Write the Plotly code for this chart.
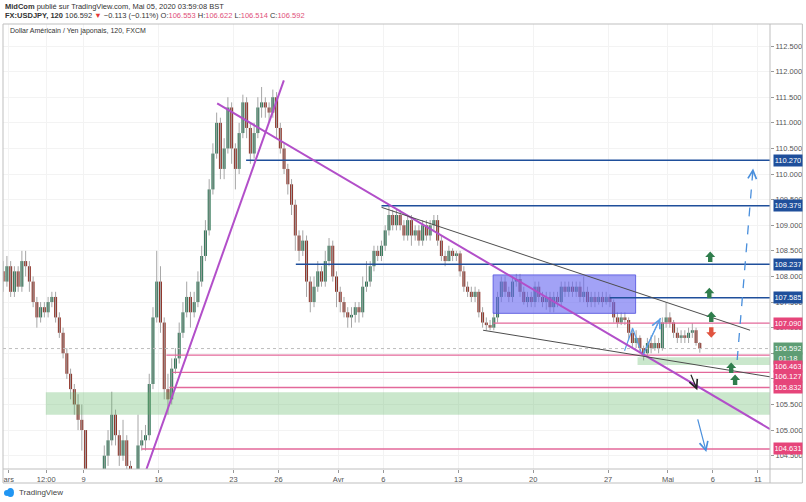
import plotly.graph_objects as go

# ---------------- data (6-hour candles, x = trading-day index from Mar 2) ----------------
first_open = 108.1
bar_step = 0.25
t_start = -0.5

closes = [
    107.9, 108.2,
    107.7, 108.1, 107.8, 108.3,
    108.2, 107.9, 107.5, 107.2,
    107.4, 107.3, 107.5, 107.6,
    107.2, 106.9, 106.5, 106.1,
    105.8, 105.5, 105.2, 105.0,
    102.5, 101.8, 102.6, 102.3,
    103.5, 104.5, 104.8, 105.3,
    104.9, 104.5, 104.8, 104.3,
    103.6, 103.8, 104.7, 104.8,
    104.9, 105.9, 107.2, 107.9,
    107.1, 105.8, 105.6, 106.2,
    106.4, 106.9, 107.3, 107.6,
    107.3, 107.5, 107.9, 108.4,
    108.9, 109.7, 110.4, 111.0,
    110.1, 110.5, 111.3, 110.5,
    110.1, 110.8, 111.4, 110.9,
    110.4, 110.8, 111.3, 111.4,
    111.3, 111.2, 111.5, 110.9,
    110.5, 110.1, 109.8, 109.4,
    108.8, 108.5, 108.7, 107.9,
    107.5, 107.8, 108.1, 107.9,
    108.3, 108.6, 108.0, 107.7,
    107.5, 107.3, 107.2, 107.25,
    107.4, 107.3, 107.8, 107.9,
    108.2, 108.5, 108.4, 108.6,
    108.9, 109.2, 109.0, 109.2,
    109.0, 108.8, 109.1, 108.8,
    108.9, 108.7, 109.0, 108.8,
    109.0, 109.1, 108.7, 108.4,
    108.3, 108.5, 108.4, 108.45,
    108.1, 107.8, 107.7, 107.6,
    107.7, 107.3, 107.1, 107.05,
    107.0, 107.2, 107.6, 107.9,
    107.7, 107.6, 107.9, 107.95,
    107.7, 107.5, 107.6, 107.5,
    107.8, 107.6, 107.5, 107.6,
    107.4, 107.6, 107.5, 107.8,
    107.7, 107.8, 107.7, 107.8,
    107.6, 107.7, 107.5, 107.6,
    107.5, 107.6, 107.5, 107.6,
    107.5, 107.2, 107.1, 107.2,
    107.15, 106.9, 106.7, 106.8,
    106.6, 106.5, 106.7, 106.6,
    106.7, 106.6, 107.1, 107.2,
    107.1, 106.9, 106.8, 106.85,
    106.8, 106.9, 106.95, 106.7,
    106.592,
]

highs = [
    108.3, 108.4,
    108.3, 108.2, 108.2, 108.5,
    108.5, 108.3, 108.0, 107.6,
    107.5, 107.5, 107.6, 107.7,
    107.7, 107.3, 107.0, 106.6,
    106.2, 105.9, 105.7, 105.5,
    104.6, 103.0, 103.2, 103.0,
    103.8, 104.7, 105.0, 105.75,
    105.4, 105.0, 105.2, 104.9,
    104.4, 104.0, 105.3, 105.0,
    105.1, 106.1, 107.4, 108.5,
    108.2, 107.2, 106.1, 106.4,
    106.6, 107.1, 107.5, 107.9,
    107.7, 107.7, 108.1, 108.6,
    109.1, 109.9, 110.6, 111.2,
    111.1, 110.7, 111.5, 111.4,
    110.6, 111.0, 111.55, 111.5,
    111.0, 111.0, 111.5, 111.7,
    111.5, 111.4, 111.65, 111.6,
    111.0, 110.6, 110.2, 109.9,
    109.5, 108.9, 108.9, 108.8,
    108.0, 108.0, 108.3, 108.2,
    108.5, 108.75, 108.7, 108.1,
    107.8, 107.6, 107.4, 107.4,
    107.5, 107.5, 108.0, 108.3,
    108.3, 108.6, 108.6, 108.7,
    109.0, 109.38, 109.3, 109.3,
    109.3, 109.1, 109.2, 109.2,
    109.0, 109.0, 109.1, 109.1,
    109.1, 109.2, 109.2, 108.8,
    108.5, 108.6, 108.55, 108.5,
    108.5, 108.2, 107.9, 107.8,
    107.8, 107.75, 107.4, 107.2,
    107.15, 107.3, 107.7, 108.0,
    108.0, 107.8, 108.0, 108.05,
    108.05, 107.8, 107.7, 107.7,
    107.9, 107.9, 107.7, 107.7,
    107.7, 107.7, 107.7, 107.9,
    107.9, 107.9, 107.9, 107.9,
    107.9, 108.0, 107.8, 107.7,
    107.7, 107.7, 107.7, 107.7,
    107.65, 107.55, 107.3, 107.3,
    107.3, 107.2, 107.0, 106.95,
    106.85, 106.65, 106.8, 106.85,
    106.85, 106.8, 107.2, 107.5,
    107.3, 107.15, 107.0, 106.95,
    106.95, 107.0, 107.09, 107.0,
    106.72,
]

lows = [
    107.7, 107.8,
    107.6, 107.6, 107.7, 107.7,
    108.0, 107.7, 107.4, 107.0,
    107.1, 107.2, 107.2, 107.4,
    107.1, 106.8, 106.4, 106.0,
    105.6, 105.3, 105.0, 104.6,
    102.0, 101.2, 101.6, 102.0,
    102.2, 103.4, 104.3, 104.7,
    104.7, 104.3, 104.4, 104.0,
    103.3, 103.1, 103.7, 104.6,
    104.6, 104.8, 105.8, 107.1,
    106.9, 105.6, 105.3, 105.5,
    106.1, 106.3, 106.8, 107.2,
    107.0, 107.2, 107.4, 107.8,
    108.3, 108.8, 109.6, 110.3,
    109.9, 109.9, 110.4, 110.2,
    109.7, 110.0, 110.7, 110.7,
    110.2, 110.3, 110.7, 111.1,
    111.1, 111.0, 111.1, 110.7,
    110.4, 110.0, 109.6, 109.2,
    108.5, 108.3, 108.4, 107.6,
    107.3, 107.4, 107.7, 107.8,
    107.8, 108.2, 107.9, 107.4,
    107.3, 107.2, 107.0, 107.0,
    107.1, 107.1, 107.2, 107.7,
    107.8, 108.1, 108.3, 108.3,
    108.5, 108.8, 108.9, 108.9,
    108.9, 108.7, 108.7, 108.6,
    108.7, 108.6, 108.6, 108.7,
    108.7, 108.9, 108.6, 108.3,
    108.2, 108.3, 108.3, 108.3,
    108.0, 107.7, 107.6, 107.5,
    107.5, 107.2, 107.0, 106.95,
    106.95, 106.95, 107.1, 107.5,
    107.6, 107.5, 107.5, 107.8,
    107.6, 107.45, 107.4, 107.4,
    107.4, 107.5, 107.4, 107.35,
    107.3, 107.3, 107.4, 107.4,
    107.6, 107.6, 107.6, 107.6,
    107.5, 107.5, 107.4, 107.4,
    107.4, 107.45, 107.4, 107.45,
    107.4, 107.1, 107.0, 107.05,
    107.05, 106.75, 106.6, 106.6,
    106.5, 106.36, 106.45, 106.5,
    106.55, 106.5, 106.55, 107.0,
    107.0, 106.8, 106.7, 106.7,
    106.7, 106.7, 106.8, 106.65,
    106.51,
]

tick_days = [0, 2.5, 5, 10, 15, 18, 22, 25, 30, 35, 40, 44, 47, 50]
tick_text = ["ars", "12:00", "9", "16", "23", "26", "Avr", "6", "13", "20", "27", "Mai", "6", "11"]
price_ticks = [104.5, 105.0, 105.5, 106.0, 106.5, 107.0, 107.5, 108.0, 108.5,
               109.0, 109.5, 110.0, 110.5, 111.0, 111.5, 112.0, 112.5]
hidden_ticks = [106.0, 106.5]   # fully covered by price tags in the reference

# horizontal levels (price, start day)
navy_levels = [110.270, 109.379, 108.237, 107.585]
navy_start = [15.84, 24.88, 19.16, 40.11]
pink_levels = [107.090, 106.463, 106.127, 105.832, 104.631]
pink_start = [32.33, 10.52, 10.92, 10.72, 8.86]
last_price = 106.592

# drawing anchors (day, price)
violet_lines = [((9.12, 104.18), (18.36, 111.83)), ((13.91, 111.38), (50.81, 105.02))]
grey_lines = [((24.88, 109.35), (49.48, 106.95)), ((31.66, 106.95), (50.81, 106.04))]
green_zones = [((2.47, 105.30), (50.81, 105.74)), ((41.97, 106.27), (50.81, 106.42))]
purple_box = ((32.33, 107.28), (41.84, 108.03))
zigzag_d = [41.10, 41.64, 42.30, 43.50]
zigzag_p = [106.55, 106.99, 106.45, 107.19]
dashed_arrow = ((48.62, 106.37), (49.68, 110.11))
blue_arrow = ((45.96, 105.24), (46.56, 104.57))
black_arrow = ((45.49, 106.11), (45.96, 105.78))
up_arrows = [(46.82, 108.38), (46.76, 107.67), (46.89, 107.21), (48.22, 106.21), (48.48, 105.98)]
down_arrows = [(46.89, 106.91)]

X_RANGE = [-0.386, 50.81]
Y_RANGE = [104.24, 112.93]

# ---------------- build candles ----------------
opens = [first_open] + closes[:-1]
n = len(closes)
times = [t_start + bar_step * (i + 0.5) for i in range(n)]

UP, DOWN, WICK = "#2f7556", "#8f3328", "#a6a6a6"
wx, wy = [], []
up_x, up_b, up_h, dn_x, dn_b, dn_h = [], [], [], [], [], []
for t, o, h, l, c in zip(times, opens, highs, lows, closes):
    h = max(h, o, c)
    l = min(l, o, c)
    wx += [t, t, None]
    wy += [l, h, None]
    body = max(abs(c - o), 0.02)
    if c >= o:
        up_x.append(t); up_b.append(min(o, c)); up_h.append(body)
    else:
        dn_x.append(t); dn_b.append(min(o, c)); dn_h.append(body)

fig = go.Figure()
fig.add_trace(go.Scatter(x=wx, y=wy, mode="lines", line=dict(color=WICK, width=1),
                         hoverinfo="skip"))
fig.add_trace(go.Bar(x=up_x, y=up_h, base=up_b, width=0.2, marker=dict(color=UP, line=dict(width=0))))
fig.add_trace(go.Bar(x=dn_x, y=dn_h, base=dn_b, width=0.2, marker=dict(color=DOWN, line=dict(width=0))))

shapes = []
NAVY, PINK, VIOLET = "#1f4f9b", "#e3699a", "#b24fc9"
# price line
shapes.append(dict(type="line", xref="x", yref="y", x0=X_RANGE[0], x1=X_RANGE[1],
                   y0=last_price, y1=last_price, line=dict(color="#bdbdbd", width=1, dash="dot")))
# green zones
for (d0, p0), (d1, p1) in green_zones:
    shapes.append(dict(type="rect", xref="x", yref="y", x0=d0, x1=d1, y0=p0, y1=p1,
                       fillcolor="rgba(90,180,95,0.32)", line=dict(width=0)))
# purple box
(bd0, bp0), (bd1, bp1) = purple_box
shapes.append(dict(type="rect", xref="x", yref="y", x0=bd0, x1=bd1, y0=bp0, y1=bp1,
                   fillcolor="rgba(105,105,240,0.62)", line=dict(color="rgba(90,90,225,0.9)", width=1)))
# levels
for lv, st in zip(navy_levels, navy_start):
    shapes.append(dict(type="line", xref="x", yref="y", x0=st, x1=X_RANGE[1], y0=lv, y1=lv,
                       line=dict(color=NAVY, width=1.5)))
for lv, st in zip(pink_levels, pink_start):
    shapes.append(dict(type="line", xref="x", yref="y", x0=st, x1=X_RANGE[1], y0=lv, y1=lv,
                       line=dict(color=PINK, width=1.3)))
# trend lines
for (d0, p0), (d1, p1) in violet_lines:
    shapes.append(dict(type="line", xref="x", yref="y", x0=d0, y0=p0, x1=d1, y1=p1,
                       line=dict(color=VIOLET, width=2)))
for (d0, p0), (d1, p1) in grey_lines:
    shapes.append(dict(type="line", xref="x", yref="y", x0=d0, y0=p0, x1=d1, y1=p1,
                       line=dict(color="#4d4d4d", width=1)))
# dashed arrow line
(dd0, dp0), (dd1, dp1) = dashed_arrow
shapes.append(dict(type="line", xref="x", yref="y", x0=dd0, y0=dp0, x1=dd1, y1=dp1,
                   line=dict(color="#4a8fdc", width=1.3, dash="dash")))
# block arrows
UP_PATH = "M-2.2,-5 L2.2,-5 L2.2,0 L5,0 L0,5.5 L-5,0 L-2.2,0 Z"
DN_PATH = "M-2.2,5 L2.2,5 L2.2,0 L5,0 L0,-5.5 L-5,0 L-2.2,0 Z"
for d, p in up_arrows:
    shapes.append(dict(type="path", xref="x", yref="y", xsizemode="pixel", ysizemode="pixel",
                       xanchor=d, yanchor=p, path=UP_PATH, fillcolor="#2f7d4c", line=dict(width=0)))
for d, p in down_arrows:
    shapes.append(dict(type="path", xref="x", yref="y", xsizemode="pixel", ysizemode="pixel",
                       xanchor=d, yanchor=p, path=DN_PATH, fillcolor="#e0533f", line=dict(width=0)))

# frame (paper coords; plot area is 770 x 445 px)
def px(xp):
    return (xp - 3) / 770.0
def py(yp):
    return (469 - yp) / 445.0
FRAME = "#bfbfbf"
shapes.append(dict(type="rect", xref="paper", yref="paper", x0=0, x1=px(805.5), y0=py(483), y1=1,
                   line=dict(color=FRAME, width=1)))
shapes.append(dict(type="line", xref="paper", yref="paper", x0=0, x1=px(805.5), y0=0, y1=0,
                   line=dict(color=FRAME, width=1)))
shapes.append(dict(type="line", xref="paper", yref="paper", x0=1, x1=1, y0=py(483), y1=1,
                   line=dict(color=FRAME, width=1)))
# TradingView cloud logo (small blue blob)
shapes.append(dict(type="circle", xref="paper", yref="paper", x0=px(4), x1=px(10), y0=py(496), y1=py(490),
                   fillcolor="#2196f3", line=dict(width=0)))
shapes.append(dict(type="circle", xref="paper", yref="paper", x0=px(7), x1=px(14), y0=py(497), y1=py(488),
                   fillcolor="#2196f3", line=dict(width=0)))

# zigzag
fig.add_trace(go.Scatter(x=zigzag_d, y=zigzag_p, mode="lines", line=dict(color="#5a9ee6", width=1.2),
                         hoverinfo="skip"))

ann = []
FONT = "Arial"
def arrow(head, tail, color, width=1.2):
    return dict(x=head[0], y=head[1], ax=tail[0], ay=tail[1], xref="x", yref="y",
                axref="x", ayref="y", text="", showarrow=True, arrowhead=5, arrowsize=1.4,
                arrowwidth=width, arrowcolor=color, standoff=0)
ann.append(arrow((zigzag_d[-1], zigzag_p[-1]), (zigzag_d[-2], zigzag_p[-2]), "#5a9ee6"))
ann.append(arrow((dd1, dp1), (dd1 - 0.05 * (dd1 - dd0), dp1 - 0.05 * (dp1 - dp0)), "#4a8fdc"))
ann.append(arrow(blue_arrow[1], blue_arrow[0], "#4a8fdc"))
ann.append(arrow(black_arrow[1], black_arrow[0], "#222222"))

# right axis labels
def tag(val, color, text=None, yshift=0):
    return dict(x=1, xref="paper", y=val, yref="y", xanchor="left", yanchor="middle",
                xshift=3, yshift=yshift, text=text if text else f"{val:.3f}", showarrow=False,
                bgcolor=color, font=dict(family=FONT, size=7.5, color="white"),
                width=26, height=9, borderpad=1)
for lv in navy_levels:
    ann.append(tag(lv, NAVY))
ann.append(tag(pink_levels[0], "#e6457a"))
ann.append(tag(last_price, "#5e9d74"))
ann.append(tag(last_price, "#5e9d74", text="01:18", yshift=-10))
ann.append(tag(pink_levels[1], "#e6457a", yshift=-11))
ann.append(tag(pink_levels[2], "#e6457a", yshift=-4))
ann.append(tag(pink_levels[3], "#e6457a"))
ann.append(tag(pink_levels[4], "#e6457a"))

# header
PINKTXT = "#e0507a"
ann.append(dict(x=0, y=py(6), xref="paper", yref="paper", xanchor="left", yanchor="middle",
                showarrow=False, font=dict(family=FONT, size=7.5, color="#333"),
                text="<b>MidCom</b> publié sur TradingView.com, Mai 05, 2020 03:59:08 BST"))
ann.append(dict(x=0, y=py(16), xref="paper", yref="paper", xanchor="left", yanchor="middle",
                showarrow=False, font=dict(family=FONT, size=7.5, color="#333"),
                text=("<b>FX:USDJPY, 120</b> 106.592 <span style='color:#e53935'>▼</span> −0.113 (−0.11%) "
                      f"O:<span style='color:{PINKTXT}'>106.553</span> H:<span style='color:{PINKTXT}'>106.622</span> "
                      f"L:<span style='color:{PINKTXT}'>106.514</span> C:<span style='color:{PINKTXT}'>106.592</span>")))
ann.append(dict(x=px(8), y=py(31), xref="paper", yref="paper", xanchor="left", yanchor="middle",
                showarrow=False, font=dict(family=FONT, size=7, color="#333"),
                text="Dollar Américain / Yen japonais, 120, FXCM"))
ann.append(dict(x=px(17), y=py(492), xref="paper", yref="paper", xanchor="left", yanchor="middle",
                showarrow=False, font=dict(family=FONT, size=8, color="#444"), text="TradingView"))

fig.update_layout(
    width=806, height=502, margin=dict(l=3, r=33, t=24, b=33),
    paper_bgcolor="white", plot_bgcolor="white", showlegend=False, barmode="overlay",
    shapes=shapes, annotations=ann,
    xaxis=dict(range=X_RANGE, tickvals=tick_days, ticktext=tick_text, showgrid=True,
               gridcolor="#f3f3f3", zeroline=False, showline=False, ticks="outside", ticklen=3,
               tickcolor="#999", tickfont=dict(family=FONT, size=7.5, color="#555")),
    yaxis=dict(range=Y_RANGE, side="right", tickvals=price_ticks,
               ticktext=["" if v in hidden_ticks else f"{v:.3f}" for v in price_ticks],
               showgrid=True, gridcolor="#f3f3f3",
               zeroline=False, showline=False, ticks="outside", ticklen=3, tickcolor="#999",
               tickfont=dict(family=FONT, size=7.5, color="#555")),
)
fig.write_html("out.html")
